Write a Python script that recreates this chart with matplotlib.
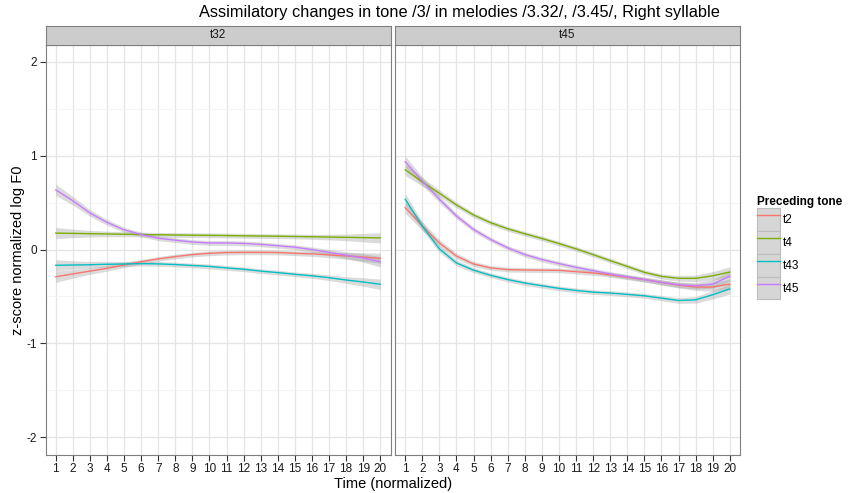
import numpy as np
import matplotlib
matplotlib.use("Agg")
import matplotlib.pyplot as plt
from matplotlib.lines import Line2D
from matplotlib.patches import Rectangle
from matplotlib.legend_handler import HandlerLine2D

plt.rcParams['font.family'] = ['Liberation Sans', 'DejaVu Sans']

# Daten
zeit = list(range(1, 21))
toene = ["t2", "t4", "t43", "t45"]
farben = ["#F8766D", "#7CAE00", "#00BFC4", "#C77CFF"]
panels = ["t32", "t45"]

t32_t2 = [-0.29, -0.26, -0.23, -0.20, -0.165, -0.13, -0.10, -0.075, -0.054, -0.04,
          -0.032, -0.03, -0.03, -0.032, -0.04, -0.046, -0.057, -0.068, -0.08, -0.093]
t32_t4 = [0.175, 0.172, 0.169, 0.166, 0.163, 0.160, 0.157, 0.155, 0.153, 0.151,
          0.149, 0.146, 0.144, 0.142, 0.139, 0.136, 0.133, 0.130, 0.127, 0.124]
t32_t43 = [-0.168, -0.165, -0.162, -0.157, -0.154, -0.150, -0.153, -0.16, -0.17, -0.18,
           -0.196, -0.21, -0.23, -0.246, -0.264, -0.28, -0.30, -0.325, -0.346, -0.37]
t32_t45 = [0.636, 0.52, 0.39, 0.29, 0.21, 0.16, 0.12, 0.10, 0.08, 0.07,
           0.07, 0.065, 0.055, 0.04, 0.025, 0.0, -0.03, -0.06, -0.09, -0.13]

t45_t2 = [0.446, 0.25, 0.07, -0.07, -0.154, -0.196, -0.214, -0.218, -0.22, -0.222,
          -0.236, -0.25, -0.27, -0.296, -0.32, -0.35, -0.38, -0.40, -0.40, -0.368]
t45_t4 = [0.85, 0.72, 0.60, 0.475, 0.368, 0.286, 0.221, 0.168, 0.118, 0.064,
          0.007, -0.054, -0.118, -0.18, -0.243, -0.286, -0.307, -0.307, -0.28, -0.24]
t45_t43 = [0.536, 0.25, 0.007, -0.143, -0.22, -0.275, -0.32, -0.357, -0.386, -0.414,
           -0.436, -0.454, -0.464, -0.478, -0.493, -0.518, -0.543, -0.536, -0.482, -0.42]
t45_t45 = [0.936, 0.73, 0.536, 0.357, 0.214, 0.107, 0.018, -0.054, -0.107, -0.15,
           -0.19, -0.225, -0.26, -0.29, -0.32, -0.35, -0.375, -0.386, -0.368, -0.286]

# halbe Breite des Konfidenzbandes
band = [0.06, 0.045, 0.035, 0.03, 0.027, 0.025, 0.025, 0.025, 0.025, 0.025,
        0.025, 0.025, 0.025, 0.025, 0.025, 0.027, 0.03, 0.035, 0.045, 0.055]

daten = {"t32": [t32_t2, t32_t4, t32_t43, t32_t45],
         "t45": [t45_t2, t45_t4, t45_t43, t45_t45]}


class Kasten(HandlerLine2D):
    # graues Kaestchen hinter der Linie (wie ggplot legend key)
    def create_artists(self, legend, orig_handle, xdescent, ydescent,
                       width, height, fontsize, trans):
        r = Rectangle((-xdescent, -ydescent), width, height, fc="#D6D6D6",
                      ec="#BDBDBD", lw=0.8, transform=trans)
        arts = super().create_artists(legend, orig_handle, xdescent, ydescent,
                                      width, height, fontsize, trans)
        return [r] + list(arts)

#################################################################

fig = plt.figure(figsize=(8.51, 4.93), dpi=100)
W, H = 851.0, 493.0
links = [45.5, 395]
breite = 345.0
oben, unten = 45.0, 455.0

for k, p in enumerate(panels):
    ax = fig.add_axes([links[k]/W, 1 - unten/H, breite/W, (unten - oben)/H])
    ax.set_xlim(0.4, 20.6)
    ax.set_ylim(-2.19, 2.18)
    ax.set_xticks(zeit)
    ax.set_yticks([-2, -1, 0, 1, 2])
    ax.set_yticks([-1.5, -0.5, 0.5, 1.5], minor=True)
    ax.grid(True, which="major", color="#E5E5E5", lw=0.9)
    ax.grid(True, which="minor", axis="y", color="#F2F2F2", lw=0.6)
    ax.set_axisbelow(True)
    for s in ax.spines.values():
        s.set_color("#7F7F7F")
        s.set_linewidth(0.8)
    ax.tick_params(axis="both", which="major", length=4, color="#333333",
                   labelsize=8.5, labelcolor="#1A1A1A", pad=2)
    ax.tick_params(axis="y", which="minor", length=0)
    if k == 0:
        ax.set_yticklabels(["-2", "-1", "0", "1", "2"])
    else:
        ax.tick_params(axis="y", which="major", left=False, labelleft=False)

    b = np.array(band)
    for werte, farbe in zip(daten[p], farben):
        y = np.array(werte)
        ax.fill_between(zeit, y - b, y + b, color="#999999", alpha=0.35, lw=0)
        ax.plot(zeit, y, color=farbe, lw=1.0)

    # Streifen oben
    sax = fig.add_axes([links[k]/W, 1 - oben/H, breite/W, 19/H])
    sax.set_xticks([])
    sax.set_yticks([])
    sax.set_facecolor("#CCCCCC")
    for s in sax.spines.values():
        s.set_color("#7F7F7F")
        s.set_linewidth(0.8)
    sax.text(0.5, 0.5, p, ha="center", va="center", fontsize=8.5,
             color="#1A1A1A", transform=sax.transAxes)

fig.text(459/W, 1 - 13/H,
         "Assimilatory changes in tone /3/ in melodies /3.32/, /3.45/, Right syllable",
         ha="center", va="center", fontsize=11.8)
fig.text(0.5 * (links[0] + links[1] + breite) / W, 1 - 484/H, "Time (normalized)",
         ha="center", va="center", fontsize=10.5)
fig.text(18/W, 0.5 * (2 - (oben + unten)/H), "z-score normalized log F0",
         ha="center", va="center", rotation=90, fontsize=10.5)

# Legende
handles = [Line2D([0], [0], color=f, lw=1.0) for f in farben]
leg = fig.legend(handles, toene, title="Preceding tone", loc="upper left",
                 bbox_to_anchor=(757/W, 1 - 196/H), frameon=False,
                 fontsize=8.5, title_fontsize=8.5, handlelength=1.95,
                 handleheight=2.6, handletextpad=0.2, labelspacing=0.0,
                 borderaxespad=0, borderpad=0,
                 handler_map={Line2D: Kasten()})
leg.get_title().set_fontweight("bold")
leg._legend_box.align = "left"

plt.savefig("out.png", dpi=100)
